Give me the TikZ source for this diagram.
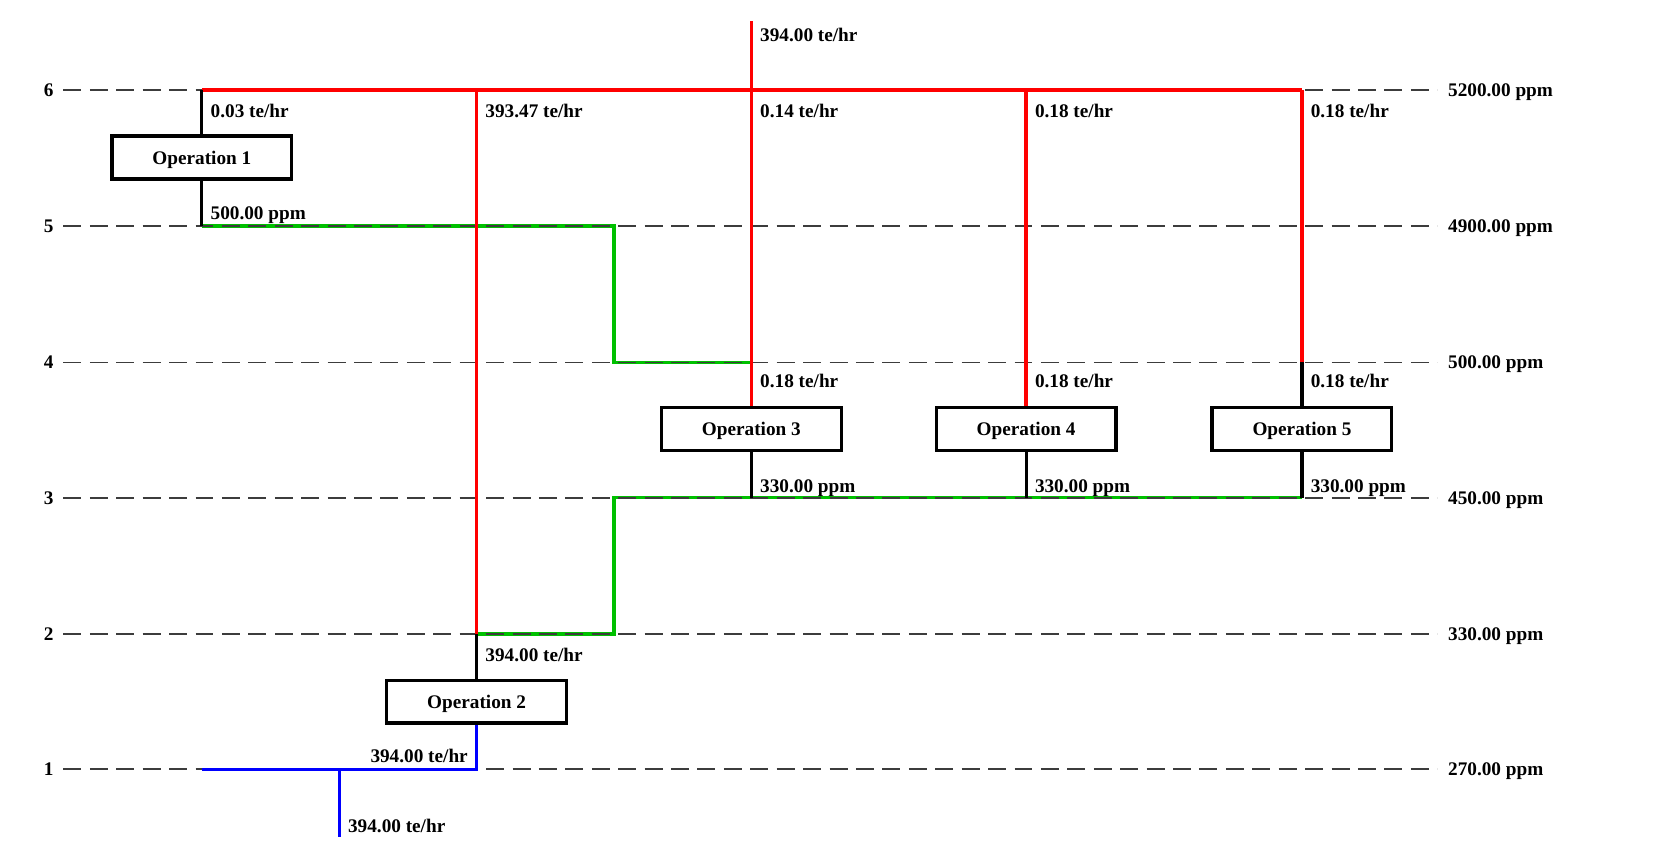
\documentclass[tikz,border=0pt]{standalone}
\usepackage{fontspec}
\setmainfont{Liberation Serif}
\definecolor{hotc}{RGB}{255,0,0}
\definecolor{coldc}{RGB}{0,0,255}
\definecolor{reusec}{RGB}{0,192,0}
\definecolor{lvlc}{RGB}{60,60,60}
\begin{document}
\begin{tikzpicture}[x=0.5pt,y=-0.5pt,
  every node/.style={font=\bfseries\fontsize{9.1}{11}\selectfont},
  opbox/.style={draw=black,line width=1.6pt,minimum width=85pt,minimum height=20.3pt,inner sep=0pt,text depth=0pt,fill=white},
  lvl/.style={draw=lvlc,line width=0.8pt,dash pattern=on 8.5pt off 4pt},
  hot/.style={draw=hotc,line width=1.6pt},
  cold/.style={draw=coldc,line width=1.6pt},
  reuse/.style={draw=reusec,line width=1.6pt},
  blk/.style={draw=black,line width=1.5pt},
  lab/.style={anchor=base west,inner sep=0pt},
  labr/.style={anchor=base east,inner sep=0pt},
  lvlnum/.style={anchor=base,inner sep=0pt}]
\useasboundingbox (0,0) rectangle (1568,804);

% junction coordinates
\coordinate (src) at (711,20);
\coordinate (h1) at (191,85);
\coordinate (h2) at (451,85);
\coordinate (h3) at (711,85);
\coordinate (h4) at (971,85);
\coordinate (h5) at (1232,85);
\coordinate (j1) at (191,214);
\coordinate (g1) at (581,214);
\coordinate (g2) at (581,343);
\coordinate (k3) at (711,343);
\coordinate (k5) at (1232,343);
\coordinate (j3) at (711,471);
\coordinate (j4) at (971,471);
\coordinate (j5) at (1232,471);
\coordinate (g3) at (581,471);
\coordinate (g4) at (581,600);
\coordinate (j2) at (451,600);
\coordinate (b2) at (451,728);
\coordinate (b0) at (191,728);
\coordinate (bm) at (321,728);
\coordinate (bout) at (321,792);

% reuse (green) lines, drawn below the level lines
\draw[reuse] (j1) -- (g1) -- (g2) -- (k3);
\draw[reuse] (j5) -- (g3) -- (g4) -- (j2);

% level lines and labels
\foreach \n/\y/\c in {6/85/5200.00,5/214/4900.00,4/343/500.00,3/471/450.00,2/600/330.00,1/728/270.00}{
  \coordinate (la\n) at (60,\y);
  \coordinate (lb\n) at (1360,\y);
  \draw[lvl] (la\n) -- (lb\n);
  \node[lvlnum] (ln\n) at (46,\y+6) {\n};
  \node[lab] (lr\n) at (1370,\y+6) {\c\ ppm};
}

% operations
\node[opbox] (op1) at (191,149) {Operation 1};
\node[opbox] (op2) at (451,664) {Operation 2};
\node[opbox] (op3) at (711,406) {Operation 3};
\node[opbox] (op4) at (971,406) {Operation 4};
\node[opbox] (op5) at (1232,406) {Operation 5};

% fresh water (red)
\draw[hot] (h1) -- (h5);
\draw[hot] (src) -- (op3.north);
\draw[hot] (h2) -- (j2);
\draw[hot] (h4) -- (op4.north);
\draw[hot] (h5) -- (k5);

% black connections
\draw[blk] (h1) -- (op1.north);
\draw[blk] (op1.south) -- (j1);
\draw[blk] (j2) -- (op2.north);
\draw[blk] (k5) -- (op5.north);
\draw[blk] (op3.south) -- (j3);
\draw[blk] (op4.south) -- (j4);
\draw[blk] (op5.south) -- (j5);

% waste water (blue)
\draw[cold] (op2.south) -- (b2) -- (b0);
\draw[cold] (bm) -- (bout);

% flow labels
\node[lab] (fs) at (719,39) {394.00 te/hr};
\node[lab] (f1) at (199,111) {0.03 te/hr};
\node[lab] (f2) at (459,111) {393.47 te/hr};
\node[lab] (f3) at (719,111) {0.14 te/hr};
\node[lab] (f4) at (979,111) {0.18 te/hr};
\node[lab] (f5) at (1240,111) {0.18 te/hr};
\node[lab] (c1) at (199,208) {500.00 ppm};
\node[lab] (i3) at (719,367) {0.18 te/hr};
\node[lab] (i4) at (979,367) {0.18 te/hr};
\node[lab] (i5) at (1240,367) {0.18 te/hr};
\node[lab] (o3) at (719,466) {330.00 ppm};
\node[lab] (o4) at (979,466) {330.00 ppm};
\node[lab] (o5) at (1240,466) {330.00 ppm};
\node[lab] (i2) at (459,626) {394.00 te/hr};
\node[labr] (o2) at (443,722) {394.00 te/hr};
\node[lab] (w) at (329,788) {394.00 te/hr};
\end{tikzpicture}
\end{document}
